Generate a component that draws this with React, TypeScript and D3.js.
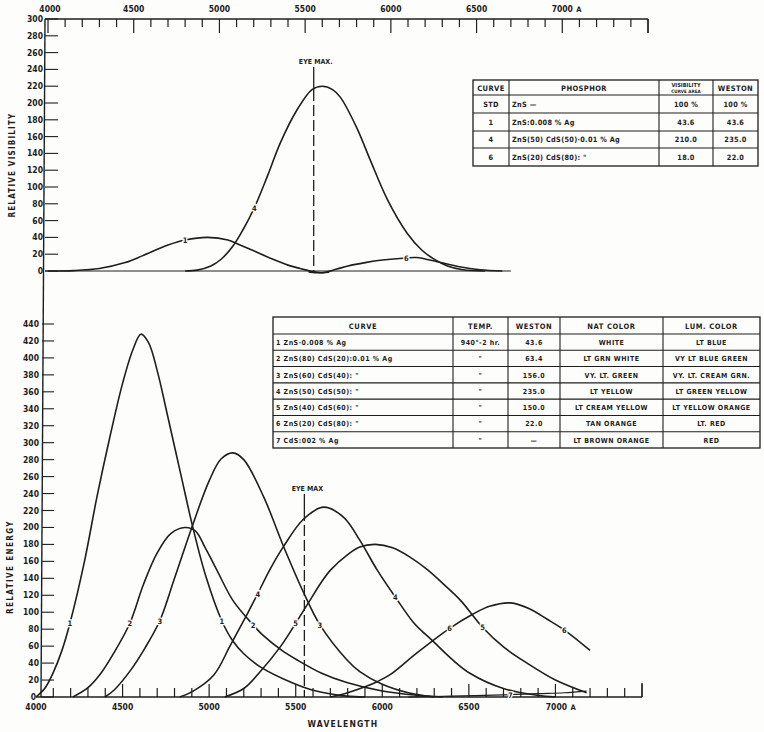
import React from 'react';
import * as d3 from 'd3';

type Pt = [number, number];

// ---------- axis ticks ----------
const wavelengthLabels = [4000, 4500, 5000, 5500, 6000, 6500, 7000];
const wavelengthMinor = d3.range(4000, 7501, 100);
const visibilityTicks = [0, 20, 40, 60, 80, 100, 120, 140, 160, 180, 200, 220, 240, 260, 280, 300];
const energyTicks = [0, 20, 40, 60, 80, 100, 120, 140, 160, 180, 200, 220, 240, 260, 280, 300, 320, 340, 360, 380, 400, 420, 440];
const eyeMax = 5550;

// ---------- top chart: relative visibility ----------
const vis1: Pt[] = [[4000, 0], [4150, 0.5], [4300, 3], [4450, 10], [4550, 18], [4700, 31], [4800, 37], [4930, 40], [5050, 37], [5120, 31], [5200, 24], [5300, 15], [5400, 7], [5470, 3], [5530, 0], [5590, -2], [5640, -1.5]];
const vis4: Pt[] = [[4800, 0], [4870, 1], [4950, 6], [5010, 14], [5080, 30], [5140, 50], [5203, 75], [5280, 113], [5354, 152], [5453, 192], [5540, 216], [5600, 220], [5660, 216], [5705, 207], [5800, 171], [5880, 132], [5980, 85], [6095, 45], [6180, 25], [6245, 15], [6330, 6], [6420, 1.5], [6550, 0]];
const vis6: Pt[] = [[5520, -1], [5600, -2], [5680, 2], [5750, 6], [5850, 10], [5950, 13], [6090, 15.5], [6150, 16], [6270, 11], [6400, 5], [6520, 1.5], [6650, 0]];
const visLabels: [string, Pt[], number][] = [['1', vis1, 4800], ['4', vis4, 5203], ['6', vis6, 6090]];

// ---------- bottom chart: relative energy ----------
const en1: Pt[] = [[4000, 0], [4050, 10], [4100, 29], [4150, 55], [4196, 87], [4280, 160], [4352, 236], [4427, 307], [4500, 370], [4560, 410], [4606, 428], [4650, 418], [4700, 385], [4762, 330], [4837, 262], [4906, 200], [4980, 143], [5073, 90], [5137, 66], [5200, 51], [5300, 35], [5466, 18], [5600, 8], [5795, 1], [5900, 0]];
const en2: Pt[] = [[4213, 0], [4300, 11], [4375, 28], [4450, 52], [4542, 87], [4621, 133], [4700, 170], [4780, 193], [4860, 200], [4920, 196], [4980, 175], [5044, 150], [5137, 114], [5254, 85], [5315, 72], [5420, 55], [5506, 44], [5650, 28], [5795, 17], [6000, 7], [6200, 2], [6350, 0]];
const en3: Pt[] = [[4398, 0], [4450, 8], [4548, 32], [4630, 58], [4715, 90], [4800, 140], [4900, 200], [5000, 255], [5070, 281], [5137, 288], [5200, 280], [5315, 236], [5431, 177], [5546, 123], [5640, 85], [5795, 44], [5870, 30], [6000, 15], [6150, 5], [6300, 0]];
const en4: Pt[] = [[4830, 0], [4900, 6], [5027, 26], [5120, 60], [5223, 99], [5281, 122], [5350, 150], [5431, 178], [5546, 210], [5662, 224], [5777, 212], [5870, 185], [5970, 150], [6075, 118], [6180, 88], [6297, 65], [6400, 45], [6506, 28], [6700, 10], [6897, 2], [7000, 0]];
const en5: Pt[] = [[5090, 0], [5200, 10], [5287, 28], [5414, 60], [5500, 87], [5564, 108], [5650, 136], [5702, 150], [5800, 168], [5870, 177], [5960, 180], [6060, 176], [6160, 165], [6262, 150], [6360, 132], [6452, 114], [6580, 82], [6700, 59], [6836, 40], [7000, 20], [7180, 5]];
const en6: Pt[] = [[5700, 0], [5800, 5], [5900, 12], [5970, 18], [6050, 27], [6200, 52], [6389, 81], [6517, 97], [6620, 107], [6741, 111], [6850, 104], [6950, 92], [7052, 79], [7200, 55]];
const en7: Pt[] = [[6150, 0], [6400, 1], [6700, 2.5], [6900, 4], [7050, 5], [7180, 7]];
const energyCurves: Pt[][] = [en1, en2, en3, en4, en5, en6, en7];
const energyLabels: [string, Pt[], number][] = [
  ['1', en1, 4196], ['2', en2, 4542], ['3', en3, 4715], ['1', en1, 5073], ['2', en2, 5254],
  ['4', en4, 5281], ['5', en5, 5500], ['3', en3, 5640], ['4', en4, 6075], ['6', en6, 6389],
  ['5', en5, 6580], ['6', en6, 7052], ['7', en7, 6740],
];

// ---------- tables ----------
const phosphorHeader = ['CURVE', 'PHOSPHOR', 'VISIBILITY|CURVE AREA', 'WESTON'];
const phosphorRows = [
  ['STD', 'ZnS —', '100 %', '100 %'],
  ['1', 'ZnS:0.008 % Ag', '43.6', '43.6'],
  ['4', 'ZnS(50) CdS(50)·0.01 % Ag', '210.0', '235.0'],
  ['6', 'ZnS(20) CdS(80):      "', '18.0', '22.0'],
];
const curveHeader = ['CURVE', 'TEMP.', 'WESTON', 'NAT COLOR', 'LUM. COLOR'];
const curveRows = [
  ['1   ZnS·0.008 % Ag', '940°-2 hr.', '43.6', 'WHITE', 'LT BLUE'],
  ['2   ZnS(80) CdS(20):0.01 % Ag', '"', '63.4', 'LT  GRN WHITE', 'VY LT BLUE GREEN'],
  ['3   ZnS(60) CdS(40):      "', '"', '156.0', 'VY. LT. GREEN', 'VY. LT. CREAM GRN.'],
  ['4   ZnS(50) CdS(50):      "', '"', '235.0', 'LT  YELLOW', 'LT GREEN YELLOW'],
  ['5   ZnS(40) CdS(60):      "', '"', '150.0', 'LT CREAM YELLOW', 'LT YELLOW ORANGE'],
  ['6   ZnS(20) CdS(80):      "', '"', '22.0', 'TAN  ORANGE', 'LT. RED'],
  ['7   CdS:002 % Ag', '"', '—', 'LT BROWN ORANGE', 'RED'],
];

const FONT = '"DejaVu Sans Condensed", "DejaVu Sans", sans-serif';
const INK = '#1e1e1c';
const PAPER = '#fdfdfb';

function interp(data: Pt[], w: number): number {
  const xs = data.map(d => d[0]);
  const i = d3.bisectLeft(xs, w);
  if (i <= 0) return data[0][1];
  if (i >= data.length) return data[data.length - 1][1];
  const [x0, y0] = data[i - 1];
  const [x1, y1] = data[i];
  return y0 + ((w - x0) / (x1 - x0)) * (y1 - y0);
}

export default function App() {
  const xT = d3.scaleLinear().domain([4000, 7500]).range([48, 648]);
  const yT = d3.scaleLinear().domain([0, 300]).range([271, 19]);
  const xB = d3.scaleLinear().domain([4000, 7500]).range([36, 642]);
  const yB = d3.scaleLinear().domain([0, 440]).range([697, 324]);

  const curve = d3.curveCatmullRom.alpha(0.5);
  const lineT = d3.line<Pt>().x(d => xT(d[0])).y(d => yT(d[1])).curve(curve);
  const lineB = d3.line<Pt>().x(d => xB(d[0])).y(d => yB(d[1])).curve(curve);

  const txt = (extra: any = {}) => ({ fontFamily: FONT, fontWeight: 700, fill: INK, ...extra });

  // top table layout
  const t1Cols = [473, 509, 659, 713, 758];
  const t1Rows = [80, 95, 113, 131, 148, 166];
  // bottom table layout
  const t2Cols = [273, 453, 508, 560, 663, 760];
  const t2Rows = [317, 334];
  for (let i = 1; i <= 7; i++) t2Rows.push(334 + i * (448 - 334) / 7);

  return (
    <svg width={764} height={732} style={{ position: 'absolute', left: 0, top: 0, background: PAPER }}>
      <rect x={0} y={0} width={764} height={732} fill={PAPER} />

      {/* ===== Top chart axes ===== */}
      <line x1={45} y1={19} x2={648} y2={19} stroke={INK} strokeWidth={1.4} />
      <line x1={648} y1={19} x2={648} y2={33} stroke={INK} strokeWidth={1.3} />
      {wavelengthMinor.map(w => (
        <line key={'tt' + w} x1={xT(w)} x2={xT(w)} y1={19} y2={w % 500 === 0 ? 33 : 27} stroke={INK} strokeWidth={1.2} />
      ))}
      {wavelengthLabels.map(w => (
        <text key={'tl' + w} x={xT(w) + (w === 4000 ? 2 : 0)} y={12} textAnchor="middle" {...txt({ fontSize: 8.5 })}>{w}</text>
      ))}
      <text x={xT(7000) + 14} y={12} {...txt({ fontSize: 7.5 })}>A</text>
      {visibilityTicks.map(v => (
        <g key={'vt' + v}>
          <line x1={45} x2={58} y1={yT(v)} y2={yT(v)} stroke={INK} strokeWidth={1.1} />
          <text x={43} y={yT(v) + 3} textAnchor="end" {...txt({ fontSize: 8.5 })}>{v}</text>
        </g>
      ))}
      <text transform={`translate(15,165) rotate(-90)`} textAnchor="middle" {...txt({ fontSize: 8, letterSpacing: 1.2 })}>RELATIVE VISIBILITY</text>
      {/* baseline */}
      <line x1={45} x2={xT(6700)} y1={yT(0)} y2={yT(0)} stroke={INK} strokeWidth={1.2} />
      {/* left spine, shared by both panels */}
      <line x1={45} y1={19} x2={41} y2={697} stroke={INK} strokeWidth={1.4} />

      {/* eye max top */}
      <line x1={xT(eyeMax)} x2={xT(eyeMax)} y1={67} y2={90} stroke={INK} strokeWidth={1.3} />
      <line x1={xT(eyeMax)} x2={xT(eyeMax)} y1={90} y2={yT(0)} stroke={INK} strokeWidth={1.3} strokeDasharray="11,4" />
      <text x={xT(eyeMax) + 2} y={64} textAnchor="middle" {...txt({ fontSize: 7 })}>EYE MAX.</text>

      {/* top curves */}
      {[vis1, vis4, vis6].map((d, i) => (
        <path key={'vc' + i} d={lineT(d) || ''} fill="none" stroke={INK} strokeWidth={1.6} />
      ))}
      {visLabels.map(([lab, data, w], i) => (
        <text key={'vl' + i} x={xT(w)} y={yT(interp(data, w)) + 3} textAnchor="middle"
          {...txt({ fontSize: 7.5, stroke: PAPER, strokeWidth: 2.5, paintOrder: 'stroke' })}>{lab}</text>
      ))}

      {/* top table */}
      <g>
        <rect x={t1Cols[0]} y={t1Rows[0]} width={t1Cols[4] - t1Cols[0]} height={t1Rows[5] - t1Rows[0]} fill="none" stroke={INK} strokeWidth={1.3} />
        {t1Cols.slice(1, -1).map((c, i) => <line key={'t1c' + i} x1={c} x2={c} y1={t1Rows[0]} y2={t1Rows[5]} stroke={INK} strokeWidth={1.1} />)}
        {t1Rows.slice(1, -1).map((r, i) => <line key={'t1r' + i} x1={t1Cols[0]} x2={t1Cols[4]} y1={r} y2={r} stroke={INK} strokeWidth={1.1} />)}
        {phosphorHeader.map((h, i) => {
          const cx = (t1Cols[i] + t1Cols[i + 1]) / 2;
          if (h.includes('|')) {
            const [a, b] = h.split('|');
            return (
              <g key={'t1h' + i}>
                <text x={cx} y={87} textAnchor="middle" {...txt({ fontSize: 5.6 })}>{a}</text>
                <text x={cx} y={93} textAnchor="middle" {...txt({ fontSize: 4.6 })}>{b}</text>
              </g>
            );
          }
          return <text key={'t1h' + i} x={cx} y={91} textAnchor="middle" {...txt({ fontSize: 7.5, letterSpacing: 0.4 })}>{h}</text>;
        })}
        {phosphorRows.map((row, r) => row.map((cell, c) => {
          const y = (t1Rows[r + 1] + t1Rows[r + 2]) / 2 + 2.8;
          const left = c === 1;
          const x = left ? t1Cols[1] + 3 : (t1Cols[c] + t1Cols[c + 1]) / 2;
          return <text key={`t1${r}-${c}`} x={x} y={y} textAnchor={left ? 'start' : 'middle'} {...txt({ fontSize: 7.3, letterSpacing: 0.3 })}>{cell}</text>;
        }))}
      </g>

      {/* ===== Bottom chart axes ===== */}
      <line x1={36} y1={697} x2={642} y2={697} stroke={INK} strokeWidth={1.4} />
      <line x1={642} y1={697} x2={642} y2={683} stroke={INK} strokeWidth={1.3} />
      {wavelengthMinor.filter(w => w > 4000).map(w => (
        <line key={'bt' + w} x1={xB(w)} x2={xB(w)} y1={697} y2={w % 500 === 0 ? 684 : 688} stroke={INK} strokeWidth={1.2} />
      ))}
      {wavelengthLabels.map(w => (
        <text key={'bl' + w} x={xB(w) + (w === 7000 ? 1 : 0)} y={710} textAnchor="middle" {...txt({ fontSize: 8.5 })}>{w}</text>
      ))}
      <text x={xB(7000) + 15} y={710} {...txt({ fontSize: 7.5 })}>A</text>
      <text x={343} y={727} textAnchor="middle" {...txt({ fontSize: 8.5, letterSpacing: 1.2 })}>WAVELENGTH</text>
      {energyTicks.map(v => (
        <g key={'et' + v}>
          <line x1={v === 0 ? 41 : 42} x2={54} y1={yB(v)} y2={yB(v)} stroke={INK} strokeWidth={1.1} />
          <text x={v === 0 ? 36 : 39} y={yB(v) + 3} textAnchor="end" {...txt({ fontSize: 8.5 })}>{v}</text>
        </g>
      ))}
      <text transform={`translate(13,567) rotate(-90)`} textAnchor="middle" {...txt({ fontSize: 8, letterSpacing: 1.4 })}>RELATIVE ENERGY</text>

      {/* eye max bottom */}
      <line x1={xB(eyeMax)} x2={xB(eyeMax)} y1={494} y2={510} stroke={INK} strokeWidth={1.3} />
      <line x1={xB(eyeMax)} x2={xB(eyeMax)} y1={510} y2={697} stroke={INK} strokeWidth={1.3} strokeDasharray="11,4" />
      <text x={xB(eyeMax) + 3} y={491} textAnchor="middle" {...txt({ fontSize: 7 })}>EYE MAX</text>

      {/* bottom curves */}
      {energyCurves.map((d, i) => (
        <path key={'ec' + i} d={lineB(d) || ''} fill="none" stroke={INK} strokeWidth={i === 6 ? 1.2 : 1.6} />
      ))}
      {energyLabels.map(([lab, data, w], i) => (
        <text key={'el' + i} x={xB(w)} y={yB(interp(data, w)) + 3} textAnchor="middle"
          {...txt({ fontSize: 7.5, stroke: PAPER, strokeWidth: 2.5, paintOrder: 'stroke' })}>{lab}</text>
      ))}

      {/* bottom table */}
      <g>
        <rect x={t2Cols[0]} y={t2Rows[0]} width={t2Cols[5] - t2Cols[0]} height={t2Rows[8] - t2Rows[0]} fill={PAPER} stroke={INK} strokeWidth={1.3} />
        {t2Cols.slice(1, -1).map((c, i) => <line key={'t2c' + i} x1={c} x2={c} y1={t2Rows[0]} y2={t2Rows[8]} stroke={INK} strokeWidth={1.1} />)}
        {t2Rows.slice(1, -1).map((r, i) => <line key={'t2r' + i} x1={t2Cols[0]} x2={t2Cols[5]} y1={r} y2={r} stroke={INK} strokeWidth={1.1} />)}
        {curveHeader.map((h, i) => (
          <text key={'t2h' + i} x={(t2Cols[i] + t2Cols[i + 1]) / 2} y={329} textAnchor="middle" {...txt({ fontSize: 7.5, letterSpacing: 0.6 })}>{h}</text>
        ))}
        {curveRows.map((row, r) => row.map((cell, c) => {
          const y = (t2Rows[r + 1] + t2Rows[r + 2]) / 2 + 2.8;
          const left = c === 0;
          const x = left ? t2Cols[0] + 3 : (t2Cols[c] + t2Cols[c + 1]) / 2;
          return <text key={`t2${r}-${c}`} x={x} y={y} textAnchor={left ? 'start' : 'middle'} {...txt({ fontSize: 7, letterSpacing: 0.5 })}>{cell}</text>;
        }))}
      </g>
    </svg>
  );
}
